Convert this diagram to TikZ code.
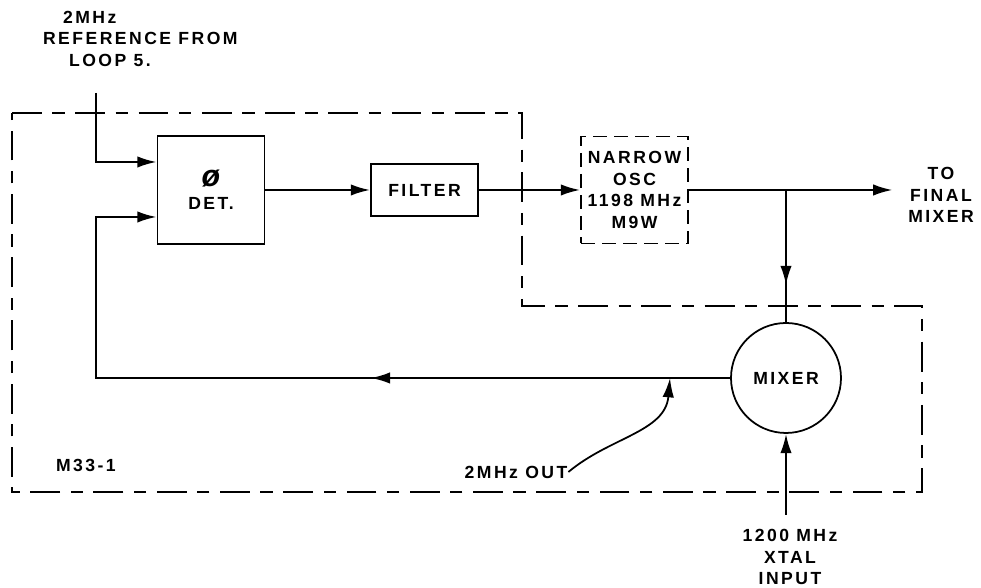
\documentclass[tikz,border=0pt]{standalone}
\usepackage{fontspec}
\setmainfont{Liberation Sans}[LetterSpace=14]
\usepackage{tikz}
\usetikzlibrary{decorations.markings, arrows.meta}
\tikzset{->-/.style={decoration={markings, mark=at position #1 with {\arrow{Latex[length=11pt,width=6.5pt]}}}, postaction={decorate}}}
\tikzset{blk/.style={draw, line width=1pt, align=center, inner sep=0pt}}
\tikzset{brd/.style={line width=1pt, dash pattern=on 17pt off 6pt on 7pt off 6pt}}
\tikzset{lbl/.style={align=center, inner sep=0pt, font=\fontsize{10}{12.2}\selectfont\bfseries}}

\begin{document}
\begin{tikzpicture}[line width=1.25pt, >={Latex[length=11pt,width=6.5pt]}]
\useasboundingbox (0,0) rectangle (19.62,11.76);
% module border M33-1
\draw[brd] (0.24,9.5) -- (10.44,9.5) -- (10.44,5.64) -- (18.44,5.64) -- (18.44,1.92) -- (0.24,1.92) -- cycle;
\node[lbl, anchor=west] (m33) at (1.1,2.46) {M33-1};
% reference input
\node[lbl, anchor=west] (ref1) at (1.24,11.42) {2MHz};
\node[lbl, anchor=west] (ref2) at (0.84,11.0) {REFERENCE FROM};
\node[lbl, anchor=west] (ref3) at (1.36,10.56) {LOOP 5.};
\coordinate (ref) at (1.92,9.9);
% blocks
\node[blk, lbl, minimum width=2.14cm, minimum height=2.16cm] (det) at (4.22,7.96) {{\LARGE\itshape ø}\\[1pt]DET.};
\node[blk, lbl, minimum width=2.14cm, minimum height=1.04cm] (filt) at (8.49,7.96) {FILTER};
\node[blk, lbl, dash pattern=on 8pt off 4pt, minimum width=2.14cm, minimum height=2.14cm] (osc) at (12.69,7.96) {NARROW\\OSC\\1198 MHz\\M9W};
\node[draw, circle, line width=1pt, minimum size=2.2cm, lbl] (mix) at (15.72,4.2) {MIXER};
% outputs and taps
\coordinate (fin) at (17.85,7.96);
\node[lbl] (tofin) at (18.82,7.86) {TO\\FINAL\\MIXER};
\coordinate (br) at (15.72,7.96);
\coordinate (fbk) at (1.92,4.2);
\coordinate (tap) at (13.4,4.2);
\coordinate (xt) at (15.72,1.46);
\node[lbl] (xtal) at (15.8,0.62) {1200 MHz\\XTAL\\INPUT};
\node[lbl] (out2) at (10.32,2.32) {2MHz OUT};
% signal paths
\draw[->] (ref) |- ([yshift=0.56cm]det.west);
\draw[->] (det) -- (filt);
\draw[->] (filt) -- (osc);
\draw[->] (osc.east) -- (fin);
\draw[->-=0.72] (br) -- (mix.north);
\draw[->] (xt) -- (mix.south);
\draw[->, ->-=0.42] (mix.west) -- (fbk) |- ([yshift=-0.54cm]det.west);
\draw[->, line width=1pt] (out2.east) to[out=40, in=-95] (tap);
\end{tikzpicture}
\end{document}
